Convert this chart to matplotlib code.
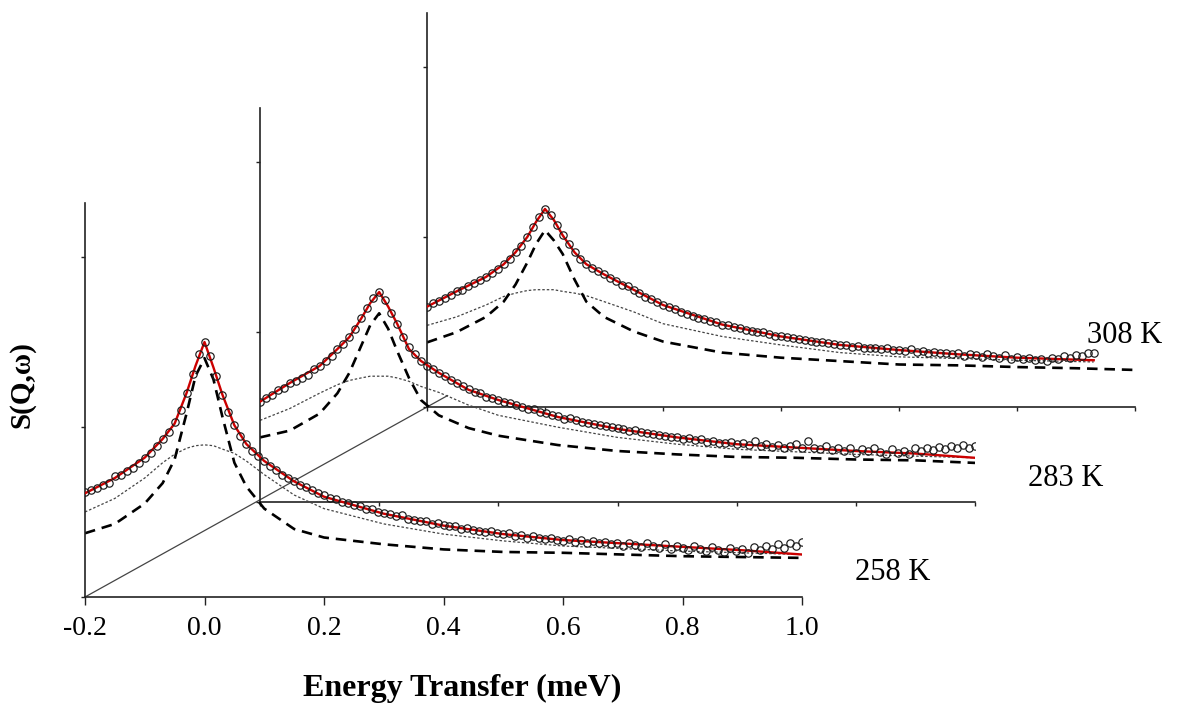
import numpy as np
import matplotlib.pyplot as plt
from matplotlib.lines import Line2D

plt.rcParams['font.family'] = ['Liberation Serif', 'DejaVu Serif']

# energy nodes for the fitted curves (meV)
E_FIT = [-0.2, -0.15, -0.1, -0.07, -0.05, -0.03, -0.015, 0.0, 0.015, 0.03, 0.05, 0.07,
         0.1, 0.15, 0.2, 0.3, 0.4, 0.5, 0.6, 0.7, 0.8, 0.9, 1.0]
E_FIT_308 = [-0.2, -0.15, -0.1, -0.07, -0.05, -0.03, -0.015, 0.0, 0.015, 0.03, 0.05, 0.07,
             0.1, 0.15, 0.2, 0.3, 0.4, 0.5, 0.6, 0.7, 0.8, 0.93]

# measured energy bins (0.01 meV steps)
E_DATA = np.linspace(-0.2, 1.0, 121)
E_DATA_308 = E_DATA[:114]

TEMPS = ["258 K", "283 K", "308 K"]

# 258 K
fit_258 = [0.61, 0.70, 0.82, 0.93, 1.02, 1.20, 1.36, 1.50, 1.35, 1.19, 1.01, 0.90,
           0.80, 0.68, 0.59, 0.49, 0.42, 0.37, 0.335, 0.315, 0.295, 0.275, 0.25]
narrow_258 = [0.375, 0.43, 0.55, 0.67, 0.81, 1.08, 1.30, 1.405, 1.28, 1.06, 0.79, 0.65,
              0.52, 0.40, 0.35, 0.31, 0.28, 0.265, 0.26, 0.25, 0.24, 0.235, 0.23]
broad_258 = [0.50, 0.58, 0.70, 0.79, 0.84, 0.875, 0.89, 0.895, 0.89, 0.87, 0.845, 0.80,
             0.72, 0.60, 0.52, 0.43, 0.37, 0.33, 0.30, 0.285, 0.27, 0.26, 0.25]
data_258 = [0.62, 0.63, 0.64, 0.66, 0.67, 0.71, 0.72, 0.74, 0.76, 0.79,
            0.82, 0.85, 0.89, 0.93, 0.97, 1.03, 1.10, 1.20, 1.31, 1.43,
            1.50, 1.42, 1.30, 1.19, 1.09, 1.01, 0.95, 0.90, 0.86, 0.83,
            0.80, 0.77, 0.75, 0.72, 0.70, 0.68, 0.66, 0.645, 0.63, 0.61,
            0.60, 0.585, 0.575, 0.56, 0.555, 0.54, 0.535, 0.52, 0.515, 0.50,
            0.495, 0.49, 0.475, 0.48, 0.46, 0.455, 0.45, 0.445, 0.43, 0.435,
            0.425, 0.415, 0.42, 0.40, 0.405, 0.395, 0.39, 0.385, 0.39, 0.375,
            0.37, 0.375, 0.36, 0.365, 0.35, 0.36, 0.345, 0.34, 0.35, 0.335,
            0.33, 0.34, 0.325, 0.335, 0.32, 0.33, 0.315, 0.325, 0.31, 0.32,
            0.30, 0.32, 0.305, 0.295, 0.315, 0.30, 0.29, 0.31, 0.285, 0.30,
            0.29, 0.275, 0.30, 0.28, 0.27, 0.295, 0.275, 0.265, 0.29, 0.27,
            0.28, 0.26, 0.295, 0.275, 0.30, 0.28, 0.31, 0.29, 0.32, 0.30,
            0.325]

# 283 K
fit_283 = [0.59, 0.70, 0.80, 0.90, 0.97, 1.08, 1.17, 1.235, 1.15, 1.05, 0.90, 0.83,
           0.76, 0.66, 0.60, 0.50, 0.43, 0.38, 0.34, 0.32, 0.30, 0.285, 0.26]
narrow_283 = [0.38, 0.42, 0.52, 0.64, 0.76, 0.92, 1.04, 1.11, 1.02, 0.89, 0.73, 0.60,
              0.51, 0.435, 0.39, 0.335, 0.30, 0.28, 0.265, 0.26, 0.25, 0.245, 0.23]
broad_283 = [0.48, 0.55, 0.64, 0.69, 0.715, 0.73, 0.74, 0.74, 0.74, 0.73, 0.71, 0.68,
             0.645, 0.57, 0.51, 0.44, 0.38, 0.34, 0.31, 0.295, 0.28, 0.27, 0.26]
data_283 = [0.59, 0.61, 0.63, 0.66, 0.67, 0.70, 0.71, 0.73, 0.75, 0.78,
            0.80, 0.83, 0.86, 0.90, 0.93, 0.97, 1.02, 1.08, 1.14, 1.20,
            1.235, 1.19, 1.11, 1.05, 0.97, 0.91, 0.87, 0.83, 0.80, 0.78,
            0.76, 0.74, 0.72, 0.70, 0.68, 0.665, 0.65, 0.64, 0.62, 0.61,
            0.60, 0.59, 0.58, 0.57, 0.56, 0.55, 0.545, 0.53, 0.525, 0.51,
            0.505, 0.49, 0.495, 0.48, 0.47, 0.465, 0.46, 0.455, 0.445, 0.44,
            0.435, 0.43, 0.42, 0.425, 0.41, 0.405, 0.40, 0.395, 0.39, 0.385,
            0.385, 0.37, 0.375, 0.365, 0.37, 0.355, 0.36, 0.35, 0.345, 0.355,
            0.34, 0.345, 0.335, 0.36, 0.33, 0.34, 0.325, 0.335, 0.32, 0.33,
            0.34, 0.315, 0.36, 0.32, 0.31, 0.33, 0.305, 0.32, 0.30, 0.315,
            0.29, 0.31, 0.30, 0.32, 0.295, 0.285, 0.31, 0.29, 0.30, 0.28,
            0.315, 0.30, 0.32, 0.305, 0.325, 0.31, 0.33, 0.315, 0.335, 0.32,
            0.33]

# 308 K
fit_308 = [0.59, 0.68, 0.765, 0.84, 0.91, 1.00, 1.09, 1.165, 1.10, 1.01, 0.91, 0.84,
           0.78, 0.69, 0.60, 0.485, 0.415, 0.365, 0.335, 0.31, 0.29, 0.275]
narrow_308 = [0.38, 0.44, 0.53, 0.62, 0.72, 0.85, 0.96, 1.04, 0.98, 0.90, 0.75, 0.62,
              0.53, 0.445, 0.385, 0.32, 0.29, 0.27, 0.25, 0.245, 0.235, 0.228, 0.218]
broad_308 = [0.48, 0.53, 0.60, 0.65, 0.67, 0.685, 0.69, 0.69, 0.69, 0.68, 0.67, 0.655,
             0.62, 0.56, 0.49, 0.415, 0.365, 0.32, 0.295, 0.285, 0.275, 0.265]
data_308 = [0.59, 0.61, 0.625, 0.64, 0.66, 0.68, 0.69, 0.71, 0.73, 0.745,
            0.765, 0.79, 0.81, 0.84, 0.87, 0.91, 0.95, 1.00, 1.06, 1.12,
            1.165, 1.13, 1.07, 1.01, 0.96, 0.91, 0.87, 0.84, 0.815, 0.80,
            0.78, 0.76, 0.74, 0.72, 0.71, 0.69, 0.67, 0.65, 0.635, 0.62,
            0.60, 0.59, 0.575, 0.56, 0.55, 0.535, 0.525, 0.515, 0.505, 0.50,
            0.485, 0.48, 0.47, 0.465, 0.455, 0.45, 0.44, 0.44, 0.43, 0.42,
            0.415, 0.41, 0.405, 0.40, 0.395, 0.39, 0.385, 0.38, 0.375, 0.37,
            0.365, 0.365, 0.355, 0.36, 0.35, 0.345, 0.35, 0.34, 0.345, 0.335,
            0.335, 0.33, 0.34, 0.325, 0.33, 0.32, 0.325, 0.315, 0.32, 0.31,
            0.315, 0.30, 0.31, 0.305, 0.295, 0.31, 0.30, 0.29, 0.305, 0.285,
            0.295, 0.28, 0.29, 0.275, 0.285, 0.27, 0.29, 0.285, 0.30, 0.29,
            0.305, 0.30, 0.315, 0.32]

X_TICKS = [-0.2, 0.0, 0.2, 0.4, 0.6, 0.8, 1.0]
X_TICK_LABELS = ["-0.2", "0.0", "0.2", "0.4", "0.6", "0.8", "1.0"]


def main():
    W, H = 1197, 703
    fig = plt.figure(figsize=(W / 100, H / 100), dpi=100)

    # panel boxes in pixels: left, bottom (from top), width; all 394 px tall
    boxes = [(85, 597, 717), (260, 502, 715), (427, 407, 708)]
    px_per_unit = 170.0
    ymax = 394 / px_per_unit

    series = [
        (E_DATA, data_258, E_FIT, fit_258, E_FIT, narrow_258, E_FIT, broad_258),
        (E_DATA, data_283, E_FIT, fit_283, E_FIT, narrow_283, E_FIT, broad_283),
        (E_DATA_308, data_308, E_FIT_308, fit_308, E_FIT, narrow_308, E_FIT_308, broad_308),
    ]

    for i, ((left, bot, width), s) in enumerate(zip(boxes, series)):
        ax = fig.add_axes([left / W, (H - bot) / H, width / W, 394 / H])
        ax.set_zorder(3 - i)
        ax.patch.set_alpha(0)
        ex, ey, fx, fy, nx, ny, bx, by = s

        ax.plot(bx, by, color='#444444', lw=0.9, ls=(0, (2, 1.6)))
        ax.plot(nx, ny, color='black', lw=1.9, ls=(0, (4, 2.6)))
        ax.plot(fx, fy, color='#cc0000', lw=1.7, zorder=3)
        ax.plot(ex, ey, ls='none', marker='o', ms=5.3, mfc='none',
                mec='#1a1a1a', mew=0.85, zorder=4)

        ax.set_xlim(-0.2, 1.0)
        ax.set_ylim(0, ymax)
        for side in ['top', 'right']:
            ax.spines[side].set_visible(False)
        for side in ['left', 'bottom']:
            ax.spines[side].set_color('#222222')
            ax.spines[side].set_linewidth(1.2)
        ax.set_yticks([0, 1, 2])
        ax.set_yticklabels([])
        ax.tick_params(axis='y', direction='out', length=3, width=1, color='#222222')
        ax.set_xticks(X_TICKS)
        if i == 0:
            ax.set_xticklabels(X_TICK_LABELS, fontsize=20)
            ax.tick_params(axis='x', direction='out', length=6, width=1,
                           color='#222222', pad=8)
        else:
            ax.set_xticklabels([])
            ax.tick_params(axis='x', direction='out', length=3, width=1, color='#222222')

    # perspective line through the panel origins
    o1 = np.array([boxes[0][0] / W, (H - boxes[0][1]) / H])
    o3 = np.array([boxes[2][0] / W, (H - boxes[2][1]) / H])
    end = o3 + 0.06 * (o3 - o1)
    fig.add_artist(Line2D([o1[0], end[0]], [o1[1], end[1]], transform=fig.transFigure,
                          color='#444444', lw=0.9, zorder=0.5))

    # temperature labels
    fig.text(855 / W, 1 - 573 / H, TEMPS[0], fontsize=22, va='center', ha='left')
    fig.text(1028 / W, 1 - 478 / H, TEMPS[1], fontsize=22, va='center', ha='left')
    fig.text(1087 / W, 1 - 335 / H, TEMPS[2], fontsize=22, va='center', ha='left')

    fig.text(462 / W, 1 - 688 / H, "Energy Transfer (meV)", fontsize=23,
             fontweight='bold', ha='center', va='center')
    fig.text(22 / W, 1 - 385 / H, "S(Q,\u03c9)", fontsize=21, fontweight='bold',
             rotation=90, ha='center', va='center')

    fig.savefig('out.png', dpi=100)


if __name__ == "__main__":
    main()
